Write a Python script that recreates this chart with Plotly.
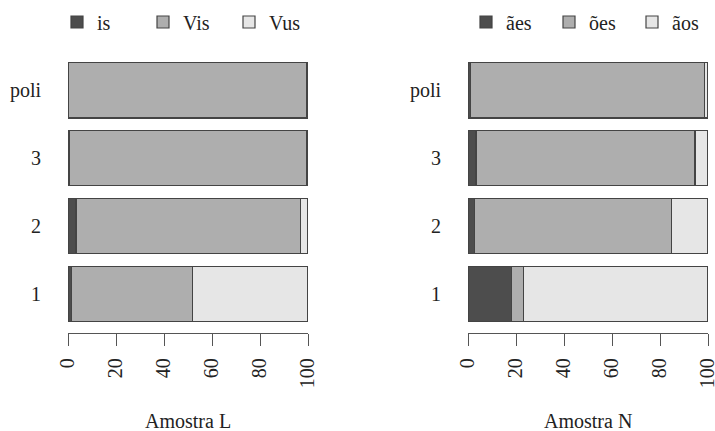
import plotly.graph_objects as go

categories = ["1", "2", "3", "poli"]

# Amostra L (percent)
L_is = [1.5, 3.3, 0.6, 0.0]
L_Vis = [50.5, 93.7, 98.8, 99.6]
L_Vus = [48.0, 3.0, 0.6, 0.4]

# Amostra N (percent)
N_aes = [18.0, 2.8, 3.3, 1.0]
N_oes = [5.0, 82.0, 91.3, 97.5]
N_aos = [77.0, 15.2, 5.4, 1.5]

names_L = ["is", "Vis", "Vus"]
names_N = ["ães", "ões", "ãos"]
tick_vals_x = [0, 20, 40, 60, 80, 100]

colors = ["#4d4d4d", "#aeaeae", "#e6e6e6"]
line_col = "#444444"
FONT = "Liberation Serif"

fig = go.Figure()
for name, vals, col in zip(names_L, [L_is, L_Vis, L_Vus], colors):
    fig.add_trace(go.Bar(y=categories, x=vals, orientation="h", name=name,
                         marker=dict(color=col, line=dict(color=line_col, width=1.2)),
                         width=0.82, xaxis="x", yaxis="y", legend="legend",
                         hoverinfo="x+name"))
for name, vals, col in zip(names_N, [N_aes, N_oes, N_aos], colors):
    fig.add_trace(go.Bar(y=categories, x=vals, orientation="h", name=name,
                         marker=dict(color=col, line=dict(color=line_col, width=1.2)),
                         width=0.82, xaxis="x2", yaxis="y2", legend="legend2",
                         hoverinfo="x+name"))

W, H = 715, 431
x1 = [68 / W, 308 / W]
x2 = [468 / W, 708 / W]

xcommon = dict(range=[0, 100], tickvals=tick_vals_x, ticks="outside", ticklen=12,
               tickwidth=1.3, tickcolor="#555", showline=True, linecolor="#555",
               linewidth=1.3, showgrid=False, zeroline=False, tickangle=-90,
               ticklabelstandoff=4, automargin=False, ticklabeloverflow="allow",
               tickfont=dict(family=FONT, size=20, color="#222"))
ycommon = dict(type="category", categoryorder="array", categoryarray=categories,
               range=[-0.574, 3.574], showgrid=False, zeroline=False, showline=False,
               ticks="", ticklabelstandoff=26, automargin=False,
               tickfont=dict(family=FONT, size=20, color="#222"))

legcommon = dict(orientation="h", yanchor="middle", xanchor="left",
                 traceorder="normal",
                 font=dict(family=FONT, size=20, color="#222"),
                 bgcolor="rgba(0,0,0,0)", itemclick=False, itemdoubleclick=False,
                 entrywidthmode="pixels", tracegroupgap=0)

fig.update_layout(
    width=W, height=H,
    margin=dict(l=0, r=0, t=51, b=98, autoexpand=False),
    paper_bgcolor="white", plot_bgcolor="white",
    barmode="stack",
    showlegend=True,
    xaxis=dict(domain=x1, anchor="y", **xcommon),
    yaxis=dict(domain=[0, 1], anchor="x", **ycommon),
    xaxis2=dict(domain=x2, anchor="y2", **xcommon),
    yaxis2=dict(domain=[0, 1], anchor="x2", **ycommon),
    legend=dict(x=57 / W, y=(333 - 22) / 282, entrywidth=41, **legcommon),
    legend2=dict(x=466 / W, y=(333 - 22) / 282, entrywidth=38, **legcommon),
    annotations=[
        dict(text="Amostra L", x=188 / W, y=-(421 - 333) / 282, xref="paper", yref="paper",
             showarrow=False, xanchor="center", yanchor="middle",
             font=dict(family=FONT, size=20, color="#222")),
        dict(text="Amostra N", x=588 / W, y=-(421 - 333) / 282, xref="paper", yref="paper",
             showarrow=False, xanchor="center", yanchor="middle",
             font=dict(family=FONT, size=20, color="#222")),
    ],
)

fig.write_html("out.html", config={"displayModeBar": False},
               post_script="document.body.style.margin='0px';document.body.style.overflow='hidden';")
